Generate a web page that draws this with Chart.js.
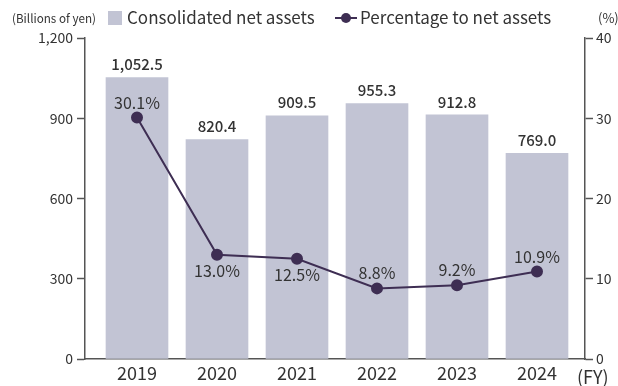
<!DOCTYPE html>
<html>
<head>
<meta charset="utf-8">
<script src="https://cdn.jsdelivr.net/npm/chart.js@4/dist/chart.umd.min.js"></script>
<style>
  html, body { margin: 0; padding: 0; background: #fff; }
  #wrap { width: 618px; height: 386px; position: relative; }
</style>
</head>
<body>
<div id="wrap"><canvas id="myChart" width="618" height="386"></canvas></div>
<script>
const years = ['2019', '2020', '2021', '2022', '2023', '2024'];
const netAssets = [1052.5, 820.4, 909.5, 955.3, 912.8, 769.0];
const netAssetLabels = ['1,052.5', '820.4', '909.5', '955.3', '912.8', '769.0'];
const percentToNetAssets = [30.1, 13.0, 12.5, 8.8, 9.2, 10.9];
// +1 puts the percent label above the point, -1 below
const percentLabelSide = [1, -1, -1, 1, 1, 1];
const leftTicks = [0, 300, 600, 900, 1200];
const rightTicks = [0, 10, 20, 30, 40];

const FONT = '"Noto Sans CJK JP", "Noto Sans", sans-serif';
const BAR_COLOR = '#c2c4d4';
const LINE_COLOR = '#3e2e53';
const TEXT_COLOR = '#333333';
const AXIS_COLOR = '#555555';

const labelsPlugin = {
    id: 'valueLabels',
    afterDatasetsDraw(chart) {
        const ctx = chart.ctx;
        ctx.save();
        ctx.fillStyle = TEXT_COLOR;
        ctx.textAlign = 'center';
        ctx.textBaseline = 'middle';

        const bars = chart.getDatasetMeta(1).data;
        ctx.font = '500 15px ' + FONT;
        bars.forEach((bar, i) => {
            ctx.fillText(netAssetLabels[i], bar.x, bar.y - 13);
        });

        const points = chart.getDatasetMeta(0).data;
        ctx.font = '16px ' + FONT;
        points.forEach((pt, i) => {
            const dy = percentLabelSide[i] > 0 ? -15 : 16;
            ctx.fillText(percentToNetAssets[i].toFixed(1) + '%', pt.x, pt.y + dy);
        });
        ctx.restore();
    },
    afterDraw(chart) {
        const ctx = chart.ctx;
        ctx.save();
        ctx.fillStyle = TEXT_COLOR;
        ctx.textBaseline = 'middle';

        // unit caption, narrow like a condensed face
        ctx.font = '12px ' + FONT;
        const cap = '(Billions of yen)';
        const w = ctx.measureText(cap).width;
        ctx.save();
        ctx.translate(12, 18);
        ctx.scale(84 / w, 1);
        ctx.textAlign = 'left';
        ctx.fillText(cap, 0, 0);
        ctx.restore();

        // legend
        ctx.fillStyle = BAR_COLOR;
        ctx.fillRect(108, 11, 14, 14);
        ctx.fillStyle = TEXT_COLOR;
        ctx.font = '17px ' + FONT;
        ctx.textAlign = 'left';
        ctx.fillText('Consolidated net assets', 127, 18);

        ctx.strokeStyle = LINE_COLOR;
        ctx.lineWidth = 2;
        ctx.beginPath();
        ctx.moveTo(335, 18);
        ctx.lineTo(357, 18);
        ctx.stroke();
        ctx.fillStyle = LINE_COLOR;
        ctx.beginPath();
        ctx.arc(346, 18, 5, 0, Math.PI * 2);
        ctx.fill();
        ctx.fillStyle = TEXT_COLOR;
        ctx.fillText('Percentage to net assets', 360, 18);

        ctx.font = '13px ' + FONT;
        ctx.fillText('(%)', 598, 18);

        ctx.font = '18px ' + FONT;
        ctx.fillText('(FY)', 577, 377);
        ctx.restore();
    }
};

const ctx = document.getElementById('myChart').getContext('2d');
const myChart = new Chart(ctx, {
    data: {
        datasets: [
            {
                type: 'line',
                label: 'Percentage to net assets',
                data: percentToNetAssets.map((v, i) => ({ x: i, y: v })),
                yAxisID: 'y1',
                borderColor: LINE_COLOR,
                backgroundColor: LINE_COLOR,
                borderWidth: 2,
                pointRadius: 5,
                pointHoverRadius: 5,
                tension: 0,
                order: 0
            },
            {
                type: 'bar',
                label: 'Consolidated net assets',
                data: netAssets.map((v, i) => ({ x: i, y: v })),
                yAxisID: 'y',
                backgroundColor: BAR_COLOR,
                barThickness: 62,
                order: 1
            }
        ]
    },
    plugins: [labelsPlugin],
    options: {
        responsive: false,
        animation: false,
        layout: {
            padding: { top: 38, left: 0, right: 0, bottom: 0 }
        },
        plugins: {
            legend: { display: false },
            tooltip: { enabled: false }
        },
        scales: {
            x: {
                type: 'linear',
                offset: false,
                min: -0.65,
                max: 5.6,
                afterBuildTicks: (scale) => {
                    scale.ticks = years.map((_, i) => ({ value: i }));
                },
                afterFit: (scale) => { scale.height = 27; },
                grid: { display: false, drawTicks: false, offset: false },
                border: { display: true, color: AXIS_COLOR, width: 1.5 },
                ticks: {
                    callback: (v) => years[v],
                    color: TEXT_COLOR,
                    font: { family: FONT, size: 18 },
                    padding: 3,
                    maxRotation: 0
                }
            },
            y: {
                position: 'left',
                min: 0,
                max: 1200,
                afterBuildTicks: (scale) => {
                    scale.ticks = leftTicks.map(v => ({ value: v }));
                },
                afterFit: (scale) => { scale.width = 85; },
                grid: {
                    drawOnChartArea: false,
                    drawTicks: true,
                    tickLength: 8,
                    tickWidth: 1.5,
                    color: AXIS_COLOR
                },
                border: { display: true, color: AXIS_COLOR, width: 1.5 },
                ticks: {
                    callback: (v) => v.toLocaleString('en-US'),
                    color: TEXT_COLOR,
                    font: { family: FONT, size: 14 },
                    padding: 4
                }
            },
            y1: {
                position: 'right',
                min: 0,
                max: 40,
                afterBuildTicks: (scale) => {
                    scale.ticks = rightTicks.map(v => ({ value: v }));
                },
                afterFit: (scale) => { scale.width = 33; },
                grid: {
                    drawOnChartArea: false,
                    drawTicks: true,
                    tickLength: 8,
                    tickWidth: 1.5,
                    color: AXIS_COLOR
                },
                border: { display: true, color: AXIS_COLOR, width: 1.5 },
                ticks: {
                    color: TEXT_COLOR,
                    font: { family: FONT, size: 14 },
                    padding: 3
                }
            }
        }
    }
});
</script>
</body>
</html>
